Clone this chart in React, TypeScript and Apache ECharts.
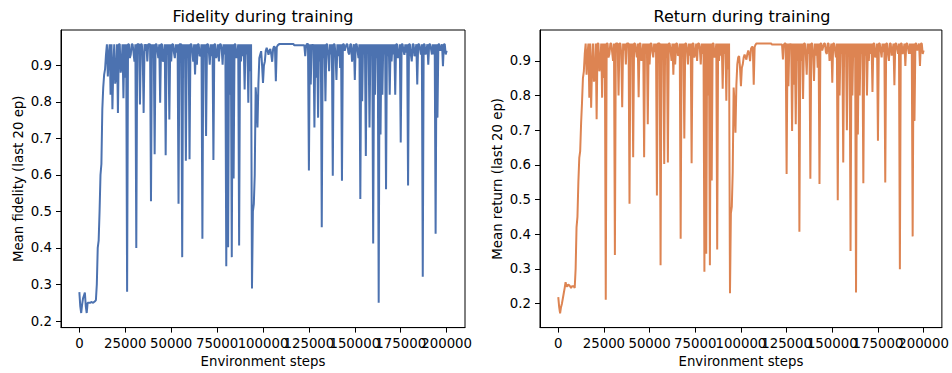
import React, { useEffect, useRef } from "react";
import * as echarts from "echarts";

// Evaluation grid: one point every 500 environment steps (0 .. 200000)
const STEP_INTERVAL = 500;

const fidelity = [
  0.279, 0.24, 0.222, 0.245, 0.262, 0.27, 0.278, 0.24, 0.222, 0.25,
  0.25, 0.25, 0.25, 0.252, 0.251, 0.25, 0.252, 0.254, 0.257, 0.30,
  0.40, 0.42, 0.50, 0.60, 0.63, 0.78, 0.84, 0.875, 0.89, 0.93,
  0.958, 0.87, 0.93, 0.958, 0.82, 0.958, 0.78, 0.90, 0.958, 0.85,
  0.87, 0.958, 0.77, 0.958, 0.958, 0.88, 0.90, 0.958, 0.81, 0.958,
  0.866, 0.958, 0.28, 0.958, 0.958, 0.92, 0.93, 0.958, 0.958, 0.935,
  0.91, 0.958, 0.40, 0.958, 0.958, 0.958, 0.793, 0.958, 0.958, 0.93,
  0.77, 0.958, 0.94, 0.958, 0.911, 0.958, 0.958, 0.958, 0.528, 0.958,
  0.93, 0.958, 0.657, 0.958, 0.958, 0.94, 0.92, 0.958, 0.798, 0.958,
  0.958, 0.91, 0.93, 0.958, 0.654, 0.958, 0.93, 0.958, 0.752, 0.958,
  0.911, 0.958, 0.958, 0.935, 0.92, 0.958, 0.935, 0.958, 0.521, 0.958,
  0.958, 0.958, 0.375, 0.958, 0.93, 0.958, 0.639, 0.958, 0.92, 0.958,
  0.643, 0.958, 0.958, 0.94, 0.91, 0.958, 0.875, 0.958, 0.902, 0.958,
  0.958, 0.925, 0.93, 0.958, 0.425, 0.958, 0.93, 0.958, 0.707, 0.958,
  0.958, 0.94, 0.902, 0.958, 0.925, 0.958, 0.641, 0.958, 0.958, 0.92,
  0.93, 0.958, 0.911, 0.958, 0.958, 0.945, 0.902, 0.958, 0.93, 0.958,
  0.35, 0.958, 0.402, 0.958, 0.82, 0.958, 0.375, 0.958, 0.59, 0.958,
  0.958, 0.92, 0.93, 0.958, 0.407, 0.958, 0.911, 0.958, 0.925, 0.958,
  0.834, 0.958, 0.93, 0.958, 0.798, 0.958, 0.884, 0.958, 0.289, 0.50,
  0.52, 0.60, 0.84, 0.80, 0.73, 0.85, 0.92, 0.93, 0.939, 0.90,
  0.852, 0.90, 0.911, 0.94, 0.948, 0.94, 0.929, 0.94, 0.945, 0.93,
  0.91, 0.945, 0.952, 0.95, 0.857, 0.95, 0.955, 0.957, 0.959, 0.959,
  0.959, 0.959, 0.959, 0.959, 0.959, 0.959, 0.959, 0.959, 0.959, 0.959,
  0.959, 0.959, 0.959, 0.959, 0.955, 0.955, 0.955, 0.955, 0.955, 0.955,
  0.955, 0.955, 0.955, 0.955, 0.955, 0.955, 0.925, 0.955, 0.959, 0.959,
  0.612, 0.958, 0.848, 0.958, 0.948, 0.958, 0.73, 0.958, 0.866, 0.958,
  0.757, 0.958, 0.911, 0.958, 0.457, 0.958, 0.92, 0.958, 0.802, 0.958,
  0.958, 0.93, 0.884, 0.958, 0.93, 0.958, 0.598, 0.958, 0.958, 0.93,
  0.86, 0.958, 0.925, 0.958, 0.893, 0.958, 0.584, 0.958, 0.958, 0.94,
  0.95, 0.958, 0.958, 0.935, 0.93, 0.958, 0.958, 0.91, 0.94, 0.958,
  0.86, 0.958, 0.958, 0.94, 0.92, 0.958, 0.534, 0.958, 0.802, 0.958,
  0.93, 0.958, 0.652, 0.958, 0.935, 0.958, 0.73, 0.958, 0.93, 0.958,
  0.412, 0.958, 0.82, 0.958, 0.92, 0.958, 0.25, 0.958, 0.711, 0.958,
  0.82, 0.958, 0.93, 0.958, 0.561, 0.958, 0.925, 0.958, 0.82, 0.958,
  0.911, 0.958, 0.93, 0.958, 0.82, 0.958, 0.958, 0.92, 0.93, 0.958,
  0.689, 0.958, 0.958, 0.94, 0.929, 0.958, 0.935, 0.958, 0.571, 0.958,
  0.958, 0.93, 0.911, 0.958, 0.958, 0.925, 0.94, 0.958, 0.848, 0.958,
  0.958, 0.945, 0.93, 0.958, 0.321, 0.958, 0.958, 0.93, 0.94, 0.958,
  0.902, 0.958, 0.958, 0.945, 0.93, 0.958, 0.93, 0.958, 0.439, 0.958,
  0.757, 0.958, 0.958, 0.94, 0.95, 0.958, 0.898, 0.958, 0.958, 0.93,
  0.94,
];

const meanReturn = [
  0.219, 0.19, 0.172, 0.19, 0.20, 0.215, 0.23, 0.245, 0.262, 0.25,
  0.25, 0.255, 0.253, 0.25, 0.245, 0.25, 0.25, 0.25, 0.245, 0.30,
  0.42, 0.45, 0.55, 0.62, 0.64, 0.72, 0.78, 0.85, 0.87, 0.92,
  0.95, 0.86, 0.92, 0.95, 0.794, 0.95, 0.765, 0.89, 0.95, 0.84,
  0.855, 0.95, 0.732, 0.95, 0.95, 0.87, 0.89, 0.95, 0.794, 0.95,
  0.851, 0.95, 0.211, 0.95, 0.95, 0.91, 0.92, 0.95, 0.95, 0.925,
  0.90, 0.95, 0.34, 0.95, 0.95, 0.95, 0.80, 0.95, 0.95, 0.92,
  0.766, 0.95, 0.93, 0.95, 0.89, 0.95, 0.95, 0.95, 0.488, 0.95,
  0.92, 0.95, 0.622, 0.95, 0.95, 0.93, 0.91, 0.95, 0.795, 0.95,
  0.95, 0.90, 0.92, 0.95, 0.622, 0.95, 0.92, 0.95, 0.717, 0.95,
  0.89, 0.95, 0.95, 0.925, 0.91, 0.95, 0.925, 0.95, 0.512, 0.95,
  0.95, 0.95, 0.311, 0.95, 0.92, 0.95, 0.603, 0.95, 0.91, 0.95,
  0.607, 0.95, 0.95, 0.93, 0.90, 0.95, 0.86, 0.95, 0.89, 0.95,
  0.95, 0.915, 0.92, 0.95, 0.387, 0.95, 0.92, 0.95, 0.676, 0.95,
  0.95, 0.93, 0.89, 0.95, 0.915, 0.95, 0.605, 0.95, 0.95, 0.91,
  0.92, 0.95, 0.90, 0.95, 0.95, 0.935, 0.89, 0.95, 0.92, 0.95,
  0.292, 0.95, 0.344, 0.95, 0.80, 0.95, 0.311, 0.95, 0.555, 0.95,
  0.95, 0.91, 0.92, 0.95, 0.356, 0.95, 0.90, 0.95, 0.915, 0.95,
  0.82, 0.95, 0.92, 0.95, 0.785, 0.95, 0.875, 0.95, 0.23, 0.46,
  0.48, 0.58, 0.823, 0.78, 0.693, 0.83, 0.89, 0.91, 0.914, 0.88,
  0.827, 0.88, 0.89, 0.91, 0.918, 0.91, 0.904, 0.92, 0.93, 0.92,
  0.899, 0.935, 0.94, 0.94, 0.831, 0.94, 0.947, 0.95, 0.95, 0.95,
  0.95, 0.95, 0.95, 0.95, 0.95, 0.95, 0.95, 0.95, 0.95, 0.95,
  0.95, 0.95, 0.95, 0.95, 0.947, 0.947, 0.947, 0.947, 0.947, 0.947,
  0.947, 0.947, 0.947, 0.947, 0.947, 0.947, 0.904, 0.947, 0.95, 0.95,
  0.574, 0.95, 0.827, 0.95, 0.94, 0.95, 0.698, 0.95, 0.831, 0.95,
  0.717, 0.95, 0.90, 0.95, 0.407, 0.95, 0.90, 0.95, 0.79, 0.95,
  0.95, 0.92, 0.86, 0.95, 0.92, 0.95, 0.56, 0.95, 0.95, 0.92,
  0.842, 0.95, 0.915, 0.95, 0.88, 0.95, 0.545, 0.95, 0.95, 0.93,
  0.94, 0.95, 0.95, 0.925, 0.92, 0.95, 0.95, 0.90, 0.93, 0.95,
  0.837, 0.95, 0.95, 0.93, 0.91, 0.95, 0.498, 0.95, 0.80, 0.95,
  0.92, 0.95, 0.607, 0.95, 0.925, 0.95, 0.70, 0.95, 0.92, 0.95,
  0.352, 0.95, 0.80, 0.95, 0.91, 0.95, 0.232, 0.95, 0.688, 0.95,
  0.80, 0.95, 0.92, 0.95, 0.547, 0.95, 0.915, 0.95, 0.80, 0.95,
  0.90, 0.95, 0.92, 0.95, 0.81, 0.95, 0.95, 0.91, 0.92, 0.95,
  0.67, 0.95, 0.95, 0.93, 0.91, 0.95, 0.925, 0.95, 0.549, 0.95,
  0.95, 0.92, 0.90, 0.95, 0.95, 0.915, 0.93, 0.95, 0.83, 0.95,
  0.95, 0.935, 0.92, 0.95, 0.299, 0.95, 0.95, 0.92, 0.93, 0.95,
  0.885, 0.95, 0.95, 0.935, 0.92, 0.95, 0.92, 0.95, 0.394, 0.95,
  0.727, 0.95, 0.95, 0.93, 0.94, 0.95, 0.885, 0.95, 0.95, 0.92,
  0.93,
];

const xTicks = [0, 25000, 50000, 75000, 100000, 125000, 150000, 175000, 200000];
const fidelityTicks = [0.2, 0.3, 0.4, 0.5, 0.6, 0.7, 0.8, 0.9];
const returnTicks = [0.2, 0.3, 0.4, 0.5, 0.6, 0.7, 0.8, 0.9];

const FONT = "DejaVu Sans";
const BLUE = "#4C72B0";
const ORANGE = "#DD8452";

export default function App() {
  const ref = useRef<HTMLDivElement>(null);

  useEffect(() => {
    if (!ref.current) return;
    const chart = echarts.init(ref.current, null, { renderer: "svg" });

    const steps = fidelity.map((_, i) => i * STEP_INTERVAL);
    const fidData = steps.map((s, i) => [s, fidelity[i]]);
    const retData = steps.map((s, i) => [s, meanReturn[i]]);

    // the labels overlap (as in the original), so they are split on two stacked axes
    const xTicksA = xTicks.filter((_, i) => i % 2 === 0);
    const xTicksB = xTicks.filter((_, i) => i % 2 === 1);

    const labelStyle = { color: "#000", fontSize: 13.3, fontFamily: FONT };

    const makeX = (gridIndex: number) => ({
      type: "value",
      gridIndex,
      position: "bottom",
      min: -10000,
      max: 210000,
      splitLine: { show: false },
      axisLine: { show: true, onZero: false, lineStyle: { color: "#000", width: 1 } },
      axisTick: { show: true, customValues: xTicks, length: 5, lineStyle: { color: "#000", width: 1 } },
      axisLabel: {
        ...labelStyle,
        customValues: xTicksA,
        margin: 9.5,
        showMinLabel: true,
        showMaxLabel: true,
        hideOverlap: false,
        formatter: (v: number) => String(v),
      },
      name: "Environment steps",
      nameLocation: "middle",
      nameGap: 27,
      nameTextStyle: labelStyle,
    });

    const makeX2 = (gridIndex: number) => ({
      type: "value",
      gridIndex,
      position: "bottom",
      offset: 0,
      min: -10000,
      max: 210000,
      splitLine: { show: false },
      axisLine: { show: false, onZero: false },
      axisTick: { show: false },
      axisLabel: {
        ...labelStyle,
        customValues: xTicksB,
        margin: 9.5,
        showMinLabel: true,
        showMaxLabel: true,
        hideOverlap: false,
        formatter: (v: number) => String(v),
      },
    });

    const makeY = (gridIndex: number, min: number, max: number, ticks: number[], name: string) => ({
      type: "value",
      gridIndex,
      min,
      max,
      splitLine: { show: false },
      axisLine: { show: true, onZero: false, lineStyle: { color: "#000", width: 1 } },
      axisTick: { show: true, customValues: ticks, length: 5, lineStyle: { color: "#000", width: 1 } },
      axisLabel: {
        ...labelStyle,
        customValues: ticks,
        margin: 9,
        showMinLabel: true,
        showMaxLabel: true,
        hideOverlap: false,
        formatter: (v: number) => v.toFixed(1),
      },
      name,
      nameLocation: "middle",
      nameGap: 36,
      nameTextStyle: labelStyle,
    });

    chart.setOption({
      animation: false,
      backgroundColor: "#fff",
      textStyle: { fontFamily: FONT },
      grid: [
        { left: 61, top: 30, width: 404, height: 299, show: true, borderColor: "#000", borderWidth: 1, containLabel: false },
        { left: 540, top: 30, width: 404, height: 299, show: true, borderColor: "#000", borderWidth: 1, containLabel: false },
      ],
      xAxis: [makeX(0), makeX(1), makeX2(0), makeX2(1)],
      yAxis: [
        makeY(0, 0.182, 0.997, fidelityTicks, "Mean fidelity (last 20 ep)"),
        makeY(1, 0.131, 0.989, returnTicks, "Mean return (last 20 ep)"),
      ],
      graphic: [
        {
          type: "text",
          x: 263,
          y: 16,
          style: { text: "Fidelity during training", fontSize: 16, fontFamily: FONT, fill: "#000", align: "center", verticalAlign: "middle" },
        },
        {
          type: "text",
          x: 742,
          y: 16,
          style: { text: "Return during training", fontSize: 16, fontFamily: FONT, fill: "#000", align: "center", verticalAlign: "middle" },
        },
      ],
      series: [
        {
          type: "line",
          xAxisIndex: 0,
          yAxisIndex: 0,
          data: fidData,
          showSymbol: false,
          lineStyle: { color: BLUE, width: 2 },
          itemStyle: { color: BLUE },
        },
        {
          type: "line",
          xAxisIndex: 1,
          yAxisIndex: 1,
          data: retData,
          showSymbol: false,
          lineStyle: { color: ORANGE, width: 2 },
          itemStyle: { color: ORANGE },
        },
      ],
    });

    return () => chart.dispose();
  }, []);

  return <div ref={ref} style={{ position: "absolute", left: 0, top: 0, width: 952, height: 373 }} />;
}
